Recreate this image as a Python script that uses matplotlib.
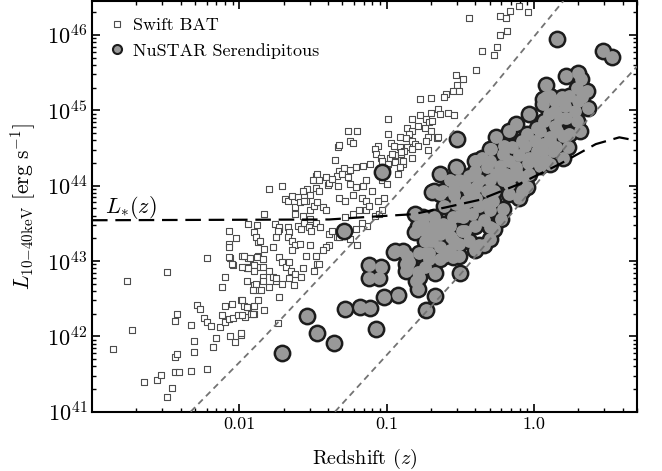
import numpy as np
import matplotlib
matplotlib.use('Agg')
import matplotlib.pyplot as plt
from matplotlib.lines import Line2D

plt.rcParams['font.family'] = 'serif'
plt.rcParams['font.serif'] = ['cmr10']
plt.rcParams['mathtext.fontset'] = 'cm'
plt.rcParams['axes.unicode_minus'] = False
plt.rcParams['axes.formatter.use_mathtext'] = True

# Swift BAT sources: log10(z), log10(L)
bat_logz = [
    -2.86, -2.76, -2.73, -2.49, -2.22, -2.65, -2.56, -2.53, -2.46, -2.49, -2.44, -2.41, -2.33, -2.22,
    -2.44, -2.42, -2.31, -2.31, -2.18, -2.16, -2.33, -2.44, -2.42, -2.29, -2.27, -2.24, -2.22, -2.19,
    -2.13, -2.10, -2.12, -2.10, -2.12, -2.10, -2.06, -2.03, -1.99, -2.07, -2.04, -2.01, -1.96, -1.92,
    -1.90, -2.05, -1.99, -1.97, -1.94, -1.90, -1.87, -1.95, -1.91, -1.87, -2.06, -1.98, -1.94, -1.87,
    -2.04, -1.90, -1.88, -2.07, -1.87,
    -1.80, -1.71, -1.69, -1.67, -1.64, -1.60, -1.54, -1.48, -1.46, -1.48, -1.47, -1.40, -1.33, -1.35,
    -1.33, -1.32, -1.25, -1.23, -1.26, -1.20, -1.32, -1.29, -1.25, -1.34, -1.30, -1.26, -1.21, -1.16,
    -1.83, -1.94, -1.88, -2.02, -2.07, -2.07, -2.07, -2.05, -1.90, -1.89, -1.86, -1.97, -1.93, -1.95,
    -1.90, -1.88, -1.84, -1.84, -1.83, -1.77, -1.75, -1.73, -1.76, -1.73, -1.74, -1.67, -1.66, -1.67,
    -1.64, -1.62, -1.60, -1.58, -1.56, -1.53, -1.51, -1.62, -1.59, -1.55, -1.52, -1.49, -1.47, -1.43,
    -1.41, -1.52, -1.48, -1.45, -1.39, -1.37, -1.34, -1.39, -1.41, -1.43, -1.48, -1.47, -1.73, -1.71,
    -1.68, -1.65, -1.62, -1.58, -1.80, -1.77, -1.75, -1.84, -1.46, -1.32, -1.25, -1.21, -1.28, -1.23,
    -1.19, -1.14, -1.32, -1.28, -1.23, -1.17, -1.14, -1.25, -1.21, -1.16, -1.50, -1.46, -1.41, -1.39,
    -1.37, -1.57, -1.52, -1.56, -1.62, -1.57,
    -0.44, -0.35, -0.39, -0.53, -0.48, -0.52, -0.55, -0.51, -0.60, -0.61, -0.77, -0.70, -0.65, -0.70,
    -0.64, -0.58, -0.54, -0.83, -0.77, -0.73, -0.71, -0.69, -0.99, -0.79, -0.74, -0.70, -0.72, -0.73,
    -0.66, -0.86, -0.83, -0.85, -0.99, -0.97, -0.91, -0.87, -0.83, -0.81, -0.86, -0.79, -1.06, -1.08,
    -1.07, -1.04, -0.98, -0.94, -0.90, -0.83, -0.89, -0.94, -0.99, -1.11, -0.91, -0.88,
    -0.23, -0.19, -0.16, -0.10, -0.04, -0.23, -0.18, -0.25, -0.27,
    -0.95, -0.83, -0.90, -0.96, -1.03, -0.94, -0.89, -0.91, -0.92, -1.00, -1.03, -1.00, -1.02, -0.72,
    -0.65,
    -1.14, -1.10, -1.06, -1.12, -1.08, -1.05, -1.13, -1.03, -1.17, -1.20,
    -1.98, -1.94, -1.90, -1.95, -1.89, -1.84, -1.91, -1.85, -1.80, -1.75, -1.71, -1.66, -1.63, -1.73,
    -1.98, -1.95, -1.91, -1.98, -1.83, -1.74, -1.99, -1.64, -1.59, -1.55, -1.52, -1.66, -1.57, -1.49,
]
bat_logL = [
    41.83, 42.73, 42.08, 42.85, 43.04, 41.39, 41.42, 41.49, 41.32, 41.19, 41.52, 41.53, 41.54, 41.57,
    41.73, 41.77, 41.79, 41.94, 41.86, 41.98, 42.15, 42.20, 42.29, 42.42, 42.36, 42.24, 42.19, 42.14,
    42.12, 42.19, 42.28, 42.40, 42.66, 42.79, 42.01, 41.93, 42.02, 42.23, 42.24, 42.28, 42.26, 42.29,
    42.29, 42.43, 42.48, 42.40, 42.39, 42.40, 42.48, 42.91, 42.95, 42.92, 43.04, 43.06, 43.04, 43.07,
    42.95, 42.68, 42.61, 43.23, 43.25,
    43.96, 43.99, 43.82, 43.80, 43.86, 43.85, 43.96, 43.97, 43.93, 44.13, 44.16, 44.01, 43.99, 44.34,
    44.51, 44.54, 44.59, 44.57, 44.73, 44.73, 44.20, 44.23, 44.21, 44.13, 44.15, 44.11, 44.24, 44.26,
    43.62, 43.49, 43.48, 43.31, 43.40, 43.18, 43.05, 42.96, 43.38, 43.32, 43.27, 43.06, 43.04, 42.92,
    42.94, 43.05, 43.03, 42.92, 43.16, 43.18, 43.32, 43.43, 43.49, 43.45, 43.40, 43.45, 43.38, 43.32,
    43.27, 43.21, 43.47, 43.43, 43.51, 43.45, 43.40, 43.71, 43.78, 43.80, 43.67, 43.73, 43.78, 43.71,
    43.67, 43.56, 43.51, 43.45, 43.36, 43.40, 43.32, 43.21, 43.18, 43.14, 43.07, 42.96, 43.05, 42.98,
    42.92, 42.87, 42.83, 42.79, 42.87, 42.79, 42.74, 42.79, 42.96, 43.32, 43.29, 43.43, 43.58, 43.62,
    43.67, 43.67, 43.84, 43.80, 43.87, 43.84, 43.80, 44.02, 43.98, 44.00, 44.07, 44.07, 44.11, 44.04,
    44.09, 43.93, 43.87, 43.80, 43.62, 43.60,
    46.22, 45.79, 45.53, 45.47, 45.42, 45.34, 45.25, 45.25, 45.21, 45.17, 45.15, 45.16, 45.01, 44.96,
    44.95, 44.96, 44.93, 44.89, 44.93, 44.88, 44.84, 44.86, 44.88, 44.79, 44.77, 44.73, 44.64, 44.59,
    44.63, 44.77, 44.72, 44.68, 44.68, 44.57, 44.64, 44.63, 44.59, 44.55, 44.51, 44.53, 44.53, 44.48,
    44.42, 44.37, 44.37, 44.40, 44.42, 44.37, 44.29, 44.33, 44.29, 44.29, 44.51, 44.46,
    46.25, 46.23, 46.32, 46.38, 46.30, 46.00, 46.05, 45.84, 45.73,
    44.53, 44.48, 44.44, 44.42, 44.33, 44.31, 44.33, 44.24, 44.15, 44.22, 44.07, 44.02, 43.84, 44.47,
    44.64,
    44.07, 43.93, 43.80, 43.73, 43.60, 43.62, 43.47, 43.67, 43.51, 43.21,
    42.92, 42.90, 42.87, 42.74, 42.70, 42.74, 42.61, 42.61, 42.65, 42.77, 42.70, 42.77, 42.68, 42.52,
    42.48, 42.39, 42.30, 42.28, 42.35, 42.17, 42.04, 43.14, 43.23, 43.07, 43.21, 42.98, 42.90, 42.87,
]

# NuSTAR serendipitous sources: log10(z), log10(L)
nu_logz = [
    -1.71, -1.54, -1.47, -1.36, -1.28, -1.18, -1.11, -1.07, -1.02, -0.92, -1.12, -1.04, -1.12, -1.05,
    -0.94, -0.89, -0.87, -0.87, -1.29, -0.86, -0.85, -0.78, -0.73, -0.71, -0.79, -0.80, -0.79, -0.78,
    -0.74, -0.67, -0.73, -0.67, -0.50, -0.39, -0.30, -0.52, -1.03,
    0.16, 0.47, 0.53, 0.08, 0.22, 0.30, 0.32, 0.36, 0.33, 0.37, 0.29, 0.30, 0.23, 0.11,
    0.20, 0.18, 0.14, 0.08, 0.06, 0.10, -0.03, 0.02, -0.05, -0.12, -0.08, -0.15, -0.21, -0.26,
    -0.30, -0.35, -0.32, -0.39, -0.40, -0.53, -0.64, -0.69, -0.64, -0.81, -0.75, -0.81, -0.69, -0.64,
    -0.55, -0.48, -0.44, -0.39, -0.30, -0.26, -0.21, -0.12, -0.17, -0.08, -0.03, 0.02, 0.06, 0.11,
    0.15, 0.20,
    -0.29, -0.40, -0.52, -0.68, -0.62, -0.54, -0.47, -0.37, -0.32, -0.28, -0.21, -0.22, -0.30, -0.37,
    -0.44, -0.49, -0.56, -0.62, -0.68, -0.75, -0.79, -0.73, -0.69, -0.64, -0.60, -0.71, -0.86, -0.95,
    -0.53, -0.46, -0.39, -0.32, -0.42, -0.48, -0.19, -0.17, -0.12, -0.08, -0.05, -0.10,
    -0.57, -0.51, -0.40, -0.34, -0.64, -0.51, -0.61, -0.55,
    0.06, 0.11, 0.19, 0.14, 0.22, 0.29, 0.31, 0.24, 0.16, 0.11, 0.06, 0.02, 0.13, 0.08, -0.03,
    -0.74, -0.68, -0.57, -0.51, -0.61, -0.54, -0.44, -0.37, -0.30, -0.27, -0.23, -0.17, -0.10, -0.06,
    0.01, 0.04, 0.07, 0.14, 0.21, 0.24, 0.28, -0.17, -0.20, -0.30, -0.44, -0.51, -0.57, -0.61,
    -0.54, -0.47, -0.40, -0.34, -0.27, -0.15, -0.04, 0.04,
]
nu_logL = [
    41.78, 42.27, 42.05, 41.91, 42.36, 42.39, 42.38, 42.10, 42.52, 42.55, 42.94, 42.92, 42.78, 42.77,
    43.13, 43.13, 42.96, 42.87, 43.40, 42.92, 42.98, 43.10, 43.10, 43.03, 42.85, 42.74, 42.63, 42.79,
    42.92, 42.84, 42.35, 42.53, 42.84, 43.18, 43.29, 44.62, 44.18,
    45.95, 45.78, 45.70, 45.34, 45.45, 45.50, 45.41, 45.26, 45.17, 45.03, 45.30, 45.12, 44.51, 44.29,
    44.66, 44.90, 45.12, 45.17, 45.08, 44.95, 44.95, 44.77, 44.68, 44.82, 44.59, 44.51, 44.42, 44.64,
    44.48, 44.37, 44.24, 44.33, 44.20, 44.24, 44.16, 43.91, 43.89, 43.62, 43.51, 43.38, 43.40, 43.36,
    43.58, 43.71, 43.80, 43.98, 44.07, 44.15, 44.07, 44.20, 43.89, 43.93, 44.15, 44.33, 44.46, 44.59,
    44.51, 44.37,
    44.48, 44.32, 44.23, 43.93, 43.93, 43.96, 44.00, 44.07, 43.93, 43.80, 43.69, 43.56, 43.45, 43.21,
    43.27, 43.40, 43.32, 43.49, 43.58, 43.58, 43.47, 43.38, 43.27, 43.18, 43.10, 43.10, 43.07, 43.12,
    43.76, 43.80, 43.84, 43.76, 43.62, 43.58, 44.15, 44.02, 44.24, 44.11, 43.98, 43.84,
    43.14, 43.07, 43.14, 43.21, 43.03, 43.23, 43.07, 43.05,
    45.15, 45.19, 45.17, 44.99, 44.90, 44.86, 44.73, 44.68, 44.73, 44.64, 44.55, 44.46, 44.46, 44.33, 44.37,
    43.27, 43.47, 43.47, 43.60, 43.73, 43.87, 43.93, 43.73, 43.67, 43.93, 44.26, 44.33, 44.40, 44.53,
    44.59, 44.73, 44.86, 44.79, 45.06, 45.19, 44.99, 44.73, 44.53, 44.33, 44.13, 44.07, 44.07, 43.40,
    43.27, 43.40, 43.47, 43.54, 43.43, 44.13, 44.30, 44.26,
]

# flux limit curves (grey dashed)
lim1_logz = [-2.33, -1.85, -1.05, -0.30, 0.20]
lim1_logL = [41.0, 41.95, 43.62, 45.26, 46.45]
lim2_logz = [-1.35, -0.50, 0.00, 0.33, 0.70]
lim2_logL = [41.0, 42.82, 43.98, 44.80, 45.58]

# L_*(z) (black dashed)
lstar_logz = [-3.0, -1.39, -1.16, -0.82, -0.60, -0.37, -0.10, 0.18, 0.42, 0.58, 0.66]
lstar_logL = [43.54, 43.55, 43.58, 43.62, 43.71, 43.81, 44.02, 44.29, 44.55, 44.64, 44.61]

xticks = [0.01, 0.1, 1.0]
xticklabels = ['0.01', '0.1', '1.0']

fig = plt.figure(figsize=(6.62, 4.71), dpi=100)
ax = fig.add_axes([0.139, 0.126, 0.823, 0.872])

bz = 10 ** np.array(bat_logz)
bL = 10 ** np.array(bat_logL)
nz = 10 ** np.array(nu_logz)
nL = 10 ** np.array(nu_logL)

ax.scatter(bz, bL, s=14, marker='s', facecolor='white', edgecolor='0.3', linewidth=0.8, zorder=2)
# thick dark outline layer, then grey fill on top
ax.scatter(nz, nL, s=165, color='#1c1c1c', linewidth=0, zorder=3)
ax.scatter(nz, nL, s=85, color='#999999', linewidth=0, zorder=4)

ax.plot(10 ** np.array(lim1_logz), 10 ** np.array(lim1_logL), color='0.45', lw=1.3, ls=(0, (3.5, 2.5)), zorder=5)
ax.plot(10 ** np.array(lim2_logz), 10 ** np.array(lim2_logL), color='0.45', lw=1.3, ls=(0, (3.5, 2.5)), zorder=5)
ax.plot(10 ** np.array(lstar_logz), 10 ** np.array(lstar_logL), color='k', lw=1.6, ls=(0, (7, 3.5)), zorder=6)

ax.text(0.00122, 10 ** 43.63, r'$L_{*}(z)$', fontsize=16)

ax.set_xscale('log')
ax.set_yscale('log')
ax.set_xlim(1e-3, 5)
ax.set_ylim(1e41, 10 ** 46.45)
ax.set_xticks(xticks)
ax.set_xticklabels(xticklabels)

ax.tick_params(which='both', direction='in', top=True, right=True)
ax.tick_params(axis='x', labelsize=13)
ax.tick_params(axis='y', labelsize=16)
ax.tick_params(which='major', length=5.5, width=1.2)
ax.tick_params(which='minor', length=3, width=1.0)
for sp in ax.spines.values():
    sp.set_linewidth(1.5)

ax.set_xlabel(r'Redshift ($z$)', fontsize=14.5)
ax.set_ylabel(r'$L_{10{-}40\mathrm{keV}}\ [\mathrm{erg\ s^{-1}}]$', fontsize=15.5)
ax.xaxis.set_label_coords(0.5, -0.085)
ax.yaxis.set_label_coords(-0.1, 0.5)

handles = [
    Line2D([], [], marker='s', ls='none', mfc='white', mec='0.3', ms=4, mew=0.8),
    Line2D([], [], marker='o', ls='none', mfc='#999999', mec='#1c1c1c', ms=6.5, mew=1.5),
]
ax.legend(handles, ['Swift BAT', 'NuSTAR Serendipitous'], loc='upper left', frameon=False,
          fontsize=13, handletextpad=0.35, borderaxespad=0.5, labelspacing=0.55, handlelength=1.0)

fig.savefig('out.png', dpi=100)
